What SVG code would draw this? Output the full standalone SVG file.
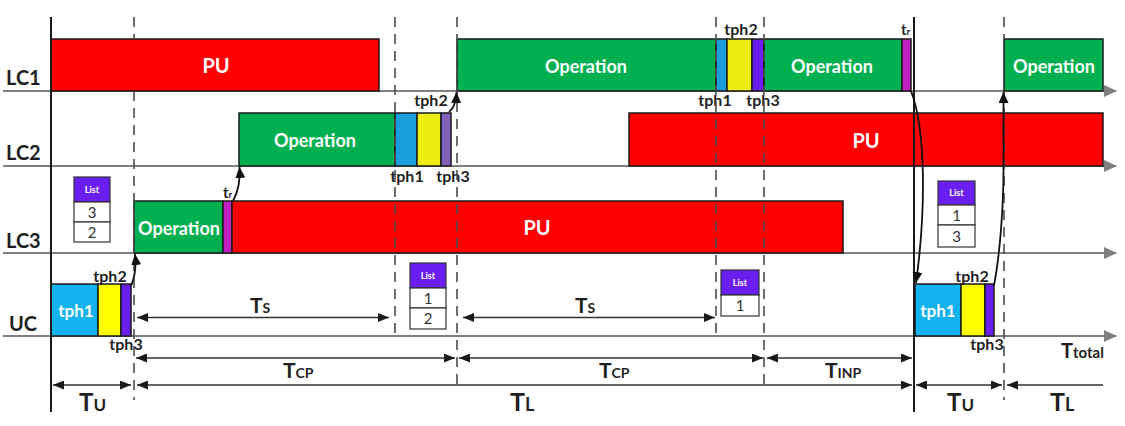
<svg xmlns="http://www.w3.org/2000/svg" width="1125" height="426" viewBox="0 0 1125 426">
<defs>
<style>
text{font-family:Lato,"Liberation Sans",sans-serif;font-weight:bold;fill:#1f1f1f}
.bx{stroke:#1a1a1a;stroke-width:1.5}
.pu{fill:#ff0000}
.op{fill:#00b050}
.bl{fill:#1a9ddb}
.blu{fill:#12b2ee}
.ye{fill:#eded12}
.yeu{fill:#ffff00}
.pp{fill:#6a1ff0}
.pp2{fill:#8062b8}
.tr{fill:#c020c0}
.wt{fill:#fff;text-anchor:middle}
.big{font-size:20px}
.opt{font-size:18px}
.tph{font-size:16px;text-anchor:middle}
.axis{stroke:#7f7f7f;stroke-width:2;fill:none;marker-end:url(#ax)}
.dash{stroke:#4d4d4d;stroke-width:1.6;stroke-dasharray:10 7;fill:none}
.solid{stroke:#1a1a1a;stroke-width:2;fill:none}
.dim{stroke:#333;stroke-width:1.6;fill:none}
.dim2{marker-start:url(#dh);marker-end:url(#dh)}
.flow{stroke:#111;stroke-width:1.8;fill:none;marker-end:url(#fh)}
.lh{fill:#6a1ff0;stroke:#333;stroke-width:1.2}
.lr{fill:#fff;stroke:#333;stroke-width:1.2}
.lt{font-size:9px;fill:#fff;text-anchor:middle}
.ln{font-size:15px;font-weight:normal;fill:#333;text-anchor:middle}
</style>
<marker id="ax" markerUnits="userSpaceOnUse" markerWidth="14" markerHeight="12" refX="12" refY="6" orient="auto"><path d="M0,0 L13,6 L0,12 z" fill="#7f7f7f"/></marker>
<marker id="dh" markerUnits="userSpaceOnUse" markerWidth="12" markerHeight="9" refX="11" refY="4.5" orient="auto-start-reverse"><path d="M0,0 L11,4.5 L0,9 z" fill="#1a1a1a"/></marker>
<marker id="fh" markerUnits="userSpaceOnUse" markerWidth="12" markerHeight="10" refX="11" refY="5" orient="auto"><path d="M0,0 L11,5 L0,10 z" fill="#111"/></marker>
</defs>
<rect width="1125" height="426" fill="#fff"/>

<g id="axes">
<line class="axis" x1="3" y1="91" x2="1116" y2="91"/>
<line class="axis" x1="3" y1="166" x2="1116" y2="166"/>
<line class="axis" x1="3" y1="253" x2="1116" y2="253"/>
<line class="axis" x1="3" y1="336" x2="1116" y2="336"/>
<text class="big" x="6" y="85">LC1</text>
<text class="big" x="6" y="160">LC2</text>
<text class="big" x="6" y="248">LC3</text>
<text class="big" x="9" y="331">UC</text>
</g>

<g id="lc1">
<rect class="bx pu" x="51" y="39" width="328" height="52"/>
<text class="wt big" x="216" y="73">PU</text>
<rect class="bx op" x="457" y="39" width="259" height="52"/>
<text class="wt opt" x="586" y="73">Operation</text>
<rect class="bx bl" x="716" y="39" width="11" height="52"/>
<rect class="bx ye" x="727" y="39" width="25" height="52"/>
<rect class="bx pp" x="752" y="39" width="12" height="52"/>
<rect class="bx op" x="764" y="39" width="138" height="52"/>
<text class="wt opt" x="832" y="73">Operation</text>
<rect class="bx tr" x="902" y="39" width="9" height="52"/>
<rect class="bx op" x="1004" y="39" width="99" height="52"/>
<text class="wt opt" x="1054" y="73">Operation</text>
<text class="tph" x="741" y="35">tph2</text>
<text class="tph" x="715" y="106">tph1</text>
<text class="tph" x="763" y="106">tph3</text>
<text x="901" y="35" font-size="15">t<tspan font-size="10">r</tspan></text>
</g>

<g id="lc2">
<rect class="bx op" x="239" y="113" width="156" height="53"/>
<text class="wt opt" x="315" y="147">Operation</text>
<rect class="bx bl" x="395" y="113" width="22" height="53"/>
<rect class="bx ye" x="417" y="113" width="24" height="53"/>
<rect class="bx pp2" x="441" y="113" width="10" height="53"/>
<rect class="bx pu" x="629" y="113" width="474" height="53"/>
<text class="wt big" x="866" y="148">PU</text>
<text class="tph" x="431" y="106">tph2</text>
<text class="tph" x="407" y="182">tph1</text>
<text class="tph" x="453" y="182">tph3</text>
</g>

<g id="lc3">
<rect class="bx op" x="134" y="201" width="89" height="52"/>
<text class="wt opt" x="179" y="235">Operation</text>
<rect class="bx tr" x="223" y="201" width="9" height="52"/>
<rect class="bx pu" x="232" y="201" width="611" height="52"/>
<text class="wt big" x="537" y="235">PU</text>
<text x="223" y="198" font-size="15">t<tspan font-size="10">r</tspan></text>
</g>

<g id="uc">
<rect class="bx blu" x="51" y="284" width="47" height="52"/>
<text class="wt" x="76" y="317" font-size="17">tph1</text>
<rect class="bx yeu" x="98" y="284" width="23" height="52"/>
<rect class="bx pp" x="121" y="284" width="10" height="52"/>
<text class="tph" x="110" y="282">tph2</text>
<text class="tph" x="126" y="350">tph3</text>
<rect class="bx blu" x="915" y="284" width="46" height="52"/>
<text class="wt" x="938" y="317" font-size="17">tph1</text>
<rect class="bx yeu" x="961" y="284" width="24" height="52"/>
<rect class="bx pp" x="985" y="284" width="9" height="52"/>
<text class="tph" x="972" y="282">tph2</text>
<text class="tph" x="987" y="350">tph3</text>
</g>

<g id="list1">
<rect class="lh" x="74" y="177" width="36" height="25"/>
<text class="lt" x="92" y="193">List</text>
<rect class="lr" x="74" y="202" width="36" height="20"/>
<text class="ln" x="92" y="218">3</text>
<rect class="lr" x="74" y="222" width="36" height="20"/>
<text class="ln" x="92" y="238">2</text>
</g>
<g id="list2">
<rect class="lh" x="410" y="263" width="36" height="25"/>
<text class="lt" x="428" y="279">List</text>
<rect class="lr" x="410" y="288" width="36" height="20"/>
<text class="ln" x="428" y="304">1</text>
<rect class="lr" x="410" y="308" width="36" height="21"/>
<text class="ln" x="428" y="324">2</text>
</g>
<g id="list3">
<rect class="lh" x="721" y="270" width="38" height="25"/>
<text class="lt" x="740" y="286">List</text>
<rect class="lr" x="721" y="295" width="38" height="21"/>
<text class="ln" x="740" y="311">1</text>
</g>
<g id="list4">
<rect class="lh" x="938" y="181" width="37" height="24"/>
<text class="lt" x="956.5" y="196">List</text>
<rect class="lr" x="938" y="205" width="37" height="20"/>
<text class="ln" x="956.5" y="221">1</text>
<rect class="lr" x="938" y="225" width="37" height="22"/>
<text class="ln" x="956.5" y="242">3</text>
</g>

<g id="grid">
<path class="dash" d="M134,17 V39 M134,91 V400"/>
<path class="dash" d="M395,17 V336"/>
<path class="dash" d="M457,17 V387"/>
<path class="dash" d="M716,17 V336"/>
<path class="dash" d="M764,17 V387"/>
<path class="dash" d="M1004,17 V39 M1004,91 V400"/>
<line class="solid" x1="51" y1="17" x2="51" y2="412"/>
<line class="solid" x1="914" y1="17" x2="914" y2="412"/>
</g>

<g id="connectors">
<path class="flow" d="M131,286 Q137,272 135,254"/>
<path class="flow" d="M233,201 Q241,186 239.5,167"/>
<path class="flow" d="M449,112 Q456,107 456.5,92"/>
<path class="flow" d="M911,91 C926,130 926,210 916,283"/>
<path class="flow" d="M994,285 C1000,255 1003.5,205 1003.5,170 L1003.5,92"/>
</g>

<g id="dimensions">
<line class="dim dim2" x1="137" y1="317.5" x2="389" y2="317.5"/>
<line class="dim dim2" x1="463" y1="317.5" x2="715" y2="317.5"/>
<line class="dim dim2" x1="136" y1="358" x2="455" y2="358"/>
<line class="dim dim2" x1="459" y1="358" x2="763" y2="358"/>
<line class="dim dim2" x1="767" y1="358" x2="912" y2="358"/>
<line class="dim dim2" x1="53" y1="385" x2="131" y2="385"/>
<line class="dim dim2" x1="137" y1="385" x2="912" y2="385"/>
<line class="dim dim2" x1="916" y1="385" x2="1002" y2="385"/>
<line class="dim" x1="1007" y1="385" x2="1103" y2="385" marker-start="url(#dh)"/>
<text x="250" y="313" font-size="21">T<tspan font-size="14">S</tspan></text>
<text x="575" y="313" font-size="21">T<tspan font-size="14">S</tspan></text>
<text x="283" y="378" font-size="21">T<tspan font-size="14">CP</tspan></text>
<text x="599" y="378" font-size="21">T<tspan font-size="14">CP</tspan></text>
<text x="825" y="378" font-size="21">T<tspan font-size="14">INP</tspan></text>
<text x="1061" y="358" font-size="20">T<tspan font-size="15">total</tspan></text>
<text x="79" y="411" font-size="24">T<tspan font-size="17">U</tspan></text>
<text x="510" y="411" font-size="25">T<tspan font-size="18">L</tspan></text>
<text x="947" y="411" font-size="24">T<tspan font-size="17">U</tspan></text>
<text x="1050" y="411" font-size="25">T<tspan font-size="18">L</tspan></text>
</g>
</svg>
